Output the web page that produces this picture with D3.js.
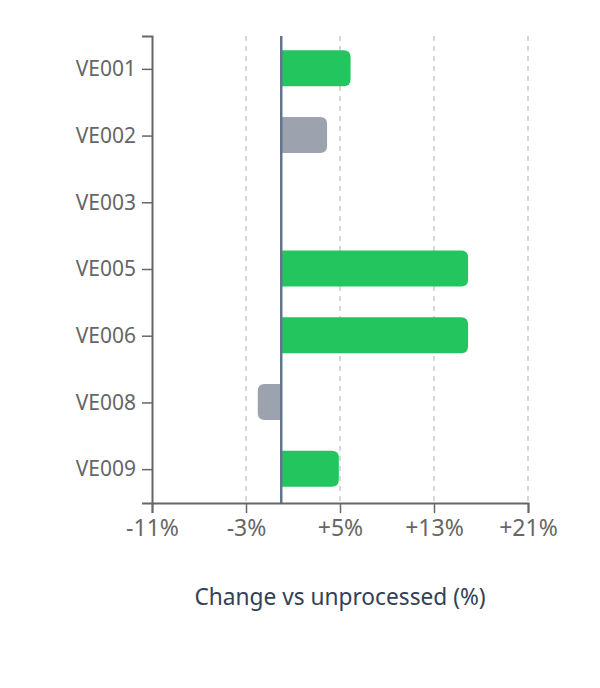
<!DOCTYPE html>
<html>
<head>
<meta charset="utf-8">
<script src="https://cdn.jsdelivr.net/npm/d3@7"></script>
<style>
  html, body { margin: 0; padding: 0; background: #fff; }
  svg { display: block; font-family: "Noto Sans", "Open Sans", sans-serif; }
</style>
</head>
<body>
<svg id="chart" width="600" height="688"></svg>
<script>
const categories = ["VE001", "VE002", "VE003", "VE005", "VE006", "VE008", "VE009"];
const changes = [5.9, 3.9, 0, 15.9, 15.9, -2.0, 4.9];
const highlight = [true, false, false, true, true, false, true];
const xTicks = [-11, -3, 5, 13, 21];
const xDomain = [-11, 21];
const axisTitle = "Change vs unprocessed (%)";

const data = categories.map((c, i) => ({ cat: c, v: changes[i], hi: highlight[i] }));

const W = 600, H = 688;
const margin = { top: 36, right: 72, bottom: 185, left: 152 };
const iw = W - margin.left - margin.right;
const ih = H - margin.top - margin.bottom;

const svg = d3.select("#chart");
const g = svg.append("g").attr("transform", `translate(${margin.left},${margin.top})`);

const x = d3.scaleLinear().domain(xDomain).range([0, iw]);
const y = d3.scaleBand().domain(categories).range([0, ih]).paddingInner(0.46).paddingOuter(0.23);

// grid
g.append("g").selectAll("line").data(xTicks.slice(1)).join("line")
  .attr("x1", d => x(d)).attr("x2", d => x(d))
  .attr("y1", 0).attr("y2", ih)
  .attr("stroke", "#cccccc").attr("stroke-width", 1.5)
  .attr("stroke-dasharray", "5,5");

// bars with rounded outer corners
function barPath(d) {
  const x0 = x(0), x1 = x(d.v);
  const top = y(d.cat) - 1, h = y.bandwidth(), bot = top + h;
  const w = Math.abs(x1 - x0);
  if (w < 0.01) return "";
  const r = Math.min(7, w, h / 2);
  if (d.v >= 0) {
    return `M${x0},${top}H${x1 - r}Q${x1},${top} ${x1},${top + r}V${bot - r}Q${x1},${bot} ${x1 - r},${bot}H${x0}Z`;
  } else {
    return `M${x0},${top}H${x1 + r}Q${x1},${top} ${x1},${top + r}V${bot - r}Q${x1},${bot} ${x1 + r},${bot}H${x0}Z`;
  }
}
g.append("g").selectAll("path").data(data).join("path")
  .attr("d", barPath)
  .attr("fill", d => d.hi ? "#22c55e" : "#9ca3af");

// zero line
g.append("line")
  .attr("x1", x(0)).attr("x2", x(0)).attr("y1", 0).attr("y2", ih)
  .attr("stroke", "#64748b").attr("stroke-width", 2.5);

// axes
const yAxis = g.append("g").call(d3.axisLeft(y).tickSize(10).tickPadding(6));
const xAxis = g.append("g").attr("transform", `translate(0,${ih})`)
  .call(d3.axisBottom(x).tickValues(xTicks).tickSize(10).tickPadding(7)
    .tickFormat(d => (d > 0 ? "+" : "") + d + "%"));

[yAxis, xAxis].forEach(a => {
  a.attr("font-family", null).attr("font-size", null);
  a.select(".domain").attr("stroke", "#666").attr("stroke-width", 2);
  a.selectAll(".tick line").attr("stroke", "#666").attr("stroke-width", 1.5);
  a.selectAll(".tick text").attr("fill", "#666")
    .style("font-family", '"Noto Sans", sans-serif')
    .style("font-weight", 400);
});
yAxis.selectAll(".tick text").style("font-size", "21px");
xAxis.selectAll(".tick text").style("font-size", "23px");

// axis title
g.append("text")
  .attr("x", iw / 2).attr("y", ih + 102)
  .attr("text-anchor", "middle")
  .attr("fill", "#334155")
  .style("font-size", "22.7px")
  .style("font-weight", 400)
  .text(axisTitle);
</script>
</body>
</html>
